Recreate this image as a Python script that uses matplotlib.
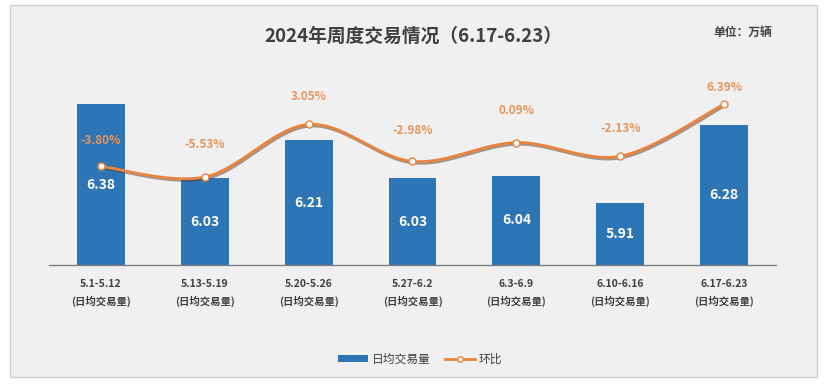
import matplotlib
matplotlib.use("Agg")
import matplotlib.pyplot as plt
from matplotlib.patches import Rectangle, Patch
from matplotlib.lines import Line2D
import matplotlib.patheffects as pe
import numpy as np

plt.rcParams['font.family'] = ['Noto Sans CJK SC', 'DejaVu Sans']

categories = ["5.1-5.12", "5.13-5.19", "5.20-5.26", "5.27-6.2", "6.3-6.9", "6.10-6.16", "6.17-6.23"]
sub_label = "(日均交易量)"
volume = [6.38, 6.03, 6.21, 6.03, 6.04, 5.91, 6.28]
mom = [-3.80, -5.53, 3.05, -2.98, 0.09, -2.13, 6.39]
title = "2024年周度交易情况（6.17-6.23）"
unit = "单位：万辆"
legend_labels = ["日均交易量", "环比"]

BAR = "#2e75b6"
ORANGE = "#e8843f"
LABEL_OR = "#e5955a"
TXT = "#404040"
BG = "#f0f0f0"

W, H = 824, 384
fig = plt.figure(figsize=(W/100, H/100), dpi=100)
fig.patch.set_facecolor("white")
fig.patches.append(Rectangle((10/W, 1-377/H), 807/W, 372/H, transform=fig.transFigure,
                             facecolor=BG, edgecolor="#d0d0d0", lw=1, zorder=-10))

ax = fig.add_axes([49/W, 1-265/H, 727/W, 205/H])
ax.set_zorder(1)
ax.patch.set_alpha(0)
x = np.arange(len(categories))
ax.bar(x, volume, width=0.46, color=BAR, zorder=2)
ax.set_xlim(-0.5, len(categories)-0.5)
ax.set_ylim(5.618, 5.618 + 205/211)
for s in ["top", "right", "left"]:
    ax.spines[s].set_visible(False)
ax.spines["bottom"].set_color("#808080")
ax.spines["bottom"].set_linewidth(1.0)
ax.set_yticks([])
ax.set_xticks(x)
ax.set_xticklabels([f"{c}\n{sub_label}" for c in categories], fontsize=7.5,
                   fontweight="bold", color=TXT, linespacing=1.75)
ax.tick_params(axis="x", length=0, pad=10)
for xi, v in zip(x, volume):
    ax.text(xi, (5.618 + v) / 2, f"{v:.2f}", ha="center", va="center",
            color="white", fontsize=10, fontweight="bold", zorder=5)

ax2 = ax.twinx()
ax2.set_zorder(2)
ax2.patch.set_alpha(0)
ax2.set_ylim(-5.53 - 88/6.12, 6.39 + 44/6.12)
ax2.axis("off")

# smooth curve (Catmull-Rom style) through data points for display
xs = x.astype(float); ys = np.array(mom)
px, py = [], []
n = len(xs)
for i in range(n-1):
    p0 = (xs[i-1], ys[i-1]) if i > 0 else (xs[i], ys[i])
    p1 = (xs[i], ys[i]); p2 = (xs[i+1], ys[i+1])
    p3 = (xs[i+2], ys[i+2]) if i+2 < n else (xs[i+1], ys[i+1])
    t = np.linspace(0, 1, 30)
    c1 = (p1[0] + (p2[0]-p0[0])/6, p1[1] + (p2[1]-p0[1])/6)
    c2 = (p2[0] - (p3[0]-p1[0])/6, p2[1] - (p3[1]-p1[1])/6)
    bx = (1-t)**3*p1[0] + 3*(1-t)**2*t*c1[0] + 3*(1-t)*t**2*c2[0] + t**3*p2[0]
    by = (1-t)**3*p1[1] + 3*(1-t)**2*t*c1[1] + 3*(1-t)*t**2*c2[1] + t**3*p2[1]
    px.extend(bx); py.extend(by)
ax2.plot(px, py, color=ORANGE, lw=2.0, zorder=3,
         path_effects=[pe.SimpleLineShadow(offset=(0.8, -1.2), shadow_color="#5a3a20", alpha=0.5), pe.Normal()])
ax2.plot(xs, ys, ls="none", marker="o", ms=5, mfc="white", mec=ORANGE, mew=1.0, zorder=4)
offs = [26, 32, 28, 31, 32, 28, 17]
for xi, v, o in zip(xs, ys, offs):
    ax2.annotate(f"{v:.2f}%", (xi, v), xytext=(0, o*0.72), textcoords="offset points",
                 ha="center", va="center", color=LABEL_OR, fontsize=8.5, fontweight="bold")

fig.text(413/W, 1-36/H, title, ha="center", va="center", fontsize=13.5, fontweight="bold", color=TXT)
fig.text(713/W, 1-32/H, unit, ha="left", va="center", fontsize=8.5, fontweight="bold", color=TXT)

handles = [Patch(facecolor=BAR),
           Line2D([0], [0], color=ORANGE, lw=2, marker="o", ms=4, mfc="white", mec=ORANGE)]
fig.legend(handles, legend_labels, loc="center", bbox_to_anchor=(420/W, 1-359/H), ncol=2,
           frameon=False, fontsize=8.5, handlelength=2.6, handleheight=0.5, columnspacing=1.2,
           handletextpad=0.3, labelcolor=TXT)

fig.savefig("out.png", dpi=100, facecolor=fig.get_facecolor())
